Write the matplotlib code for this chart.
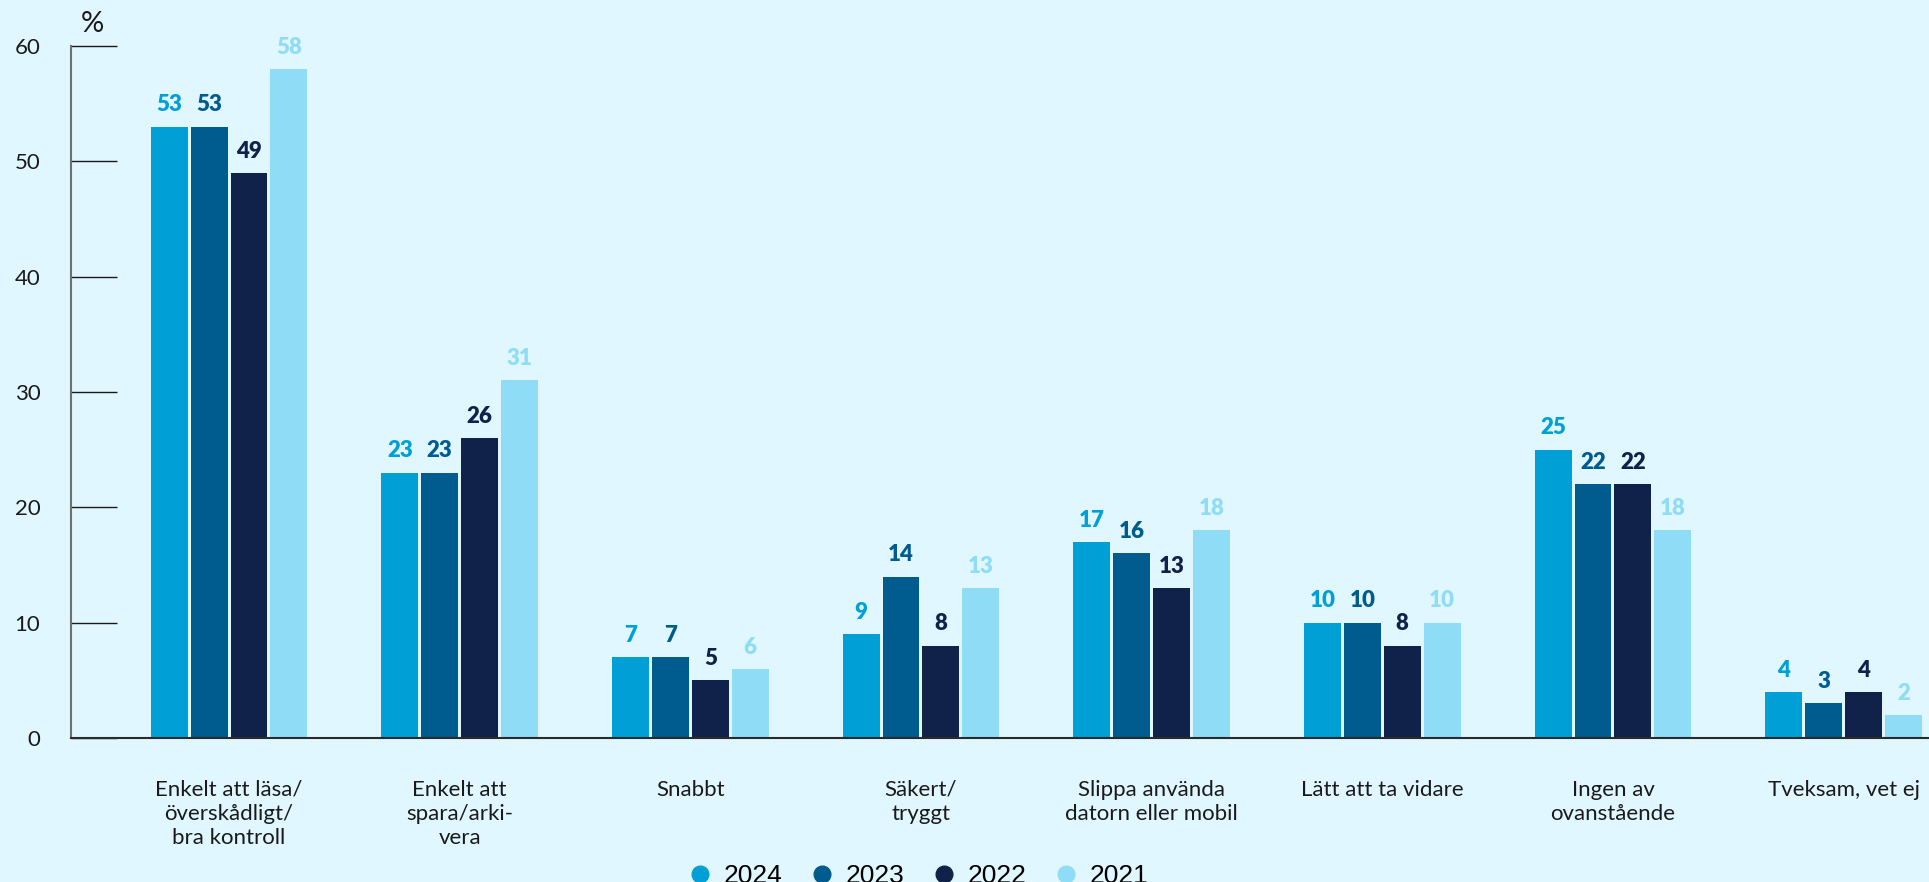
import matplotlib
matplotlib.use("Agg")
import matplotlib.pyplot as plt
from matplotlib.lines import Line2D
import numpy as np

categories = ["Enkelt att läsa/\növerskådligt/\nbra kontroll",
              "Enkelt att\nspara/arki-\nvera",
              "Snabbt",
              "Säkert/\ntryggt",
              "Slippa använda\ndatorn eller mobil",
              "Lätt att ta vidare",
              "Ingen av\novanstående",
              "Tveksam, vet ej"]
years = ["2024", "2023", "2022", "2021"]
v2024 = [53, 23, 7, 9, 17, 10, 25, 4]
v2023 = [53, 23, 7, 14, 16, 10, 22, 3]
v2022 = [49, 26, 5, 8, 13, 8, 22, 4]
v2021 = [58, 31, 6, 13, 18, 10, 18, 2]
yticks = [0, 10, 20, 30, 40, 50, 60]

colors = ["#00a0d6", "#005b8e", "#10214a", "#8fdcf7"]
bg = "#e0f7ff"
ink = "#1a1a1a"

plt.rcParams["font.family"] = ["Lato", "DejaVu Sans"]

fig = plt.figure(figsize=(19.29, 8.82), dpi=100, facecolor=bg)
ax = fig.add_axes([71 / 1929, 144 / 882, 1 - 71 / 1929, (738 - 46) / 882])
ax.set_facecolor(bg)

x = np.arange(len(categories))
pitch, width = 0.173, 0.160
series = [v2024, v2023, v2022, v2021]
for i, (vals, c) in enumerate(zip(series, colors)):
    xs = x + (i - 1.5) * pitch
    ax.bar(xs, vals, width=width, color=c, zorder=2)
    for xx, v in zip(xs, vals):
        ax.annotate(str(v), (xx, v), xytext=(0, 11), textcoords="offset points",
                    ha="center", va="baseline", fontsize=16, fontweight="heavy",
                    color=c)

ax.set_xlim(-0.685, 7.37)
ax.set_ylim(0, 60)
ax.set_xticks(x)
ax.set_xticklabels(categories, fontsize=16, linespacing=1.25, color=ink)
ax.tick_params(axis="x", length=0, pad=30)
ax.set_yticks(yticks)
ax.set_yticklabels([str(t) for t in yticks], fontsize=16, color=ink)
ax.tick_params(axis="y", direction="in", length=33, width=1, color=ink, pad=22)

for s in ("top", "right"):
    ax.spines[s].set_visible(False)
ax.spines["left"].set_color("#707070")
ax.spines["left"].set_linewidth(1.5)
ax.spines["bottom"].set_color("#2a2a2a")
ax.spines["bottom"].set_linewidth(1.5)

fig.text(92 / 1929, 1 - 24 / 882, "%", fontsize=21, ha="center", va="center",
         color=ink)

handles = [Line2D([], [], marker="o", ls="", ms=12, color=c) for c in colors]
fig.legend(handles, years, loc="center", bbox_to_anchor=(920 / 1929, 6 / 882),
           ncol=4, frameon=False, handlelength=0.6, columnspacing=1.2,
           handletextpad=0.6, prop={"family": "Liberation Sans", "size": 19})

fig.savefig("out.png", dpi=100, facecolor=bg)
